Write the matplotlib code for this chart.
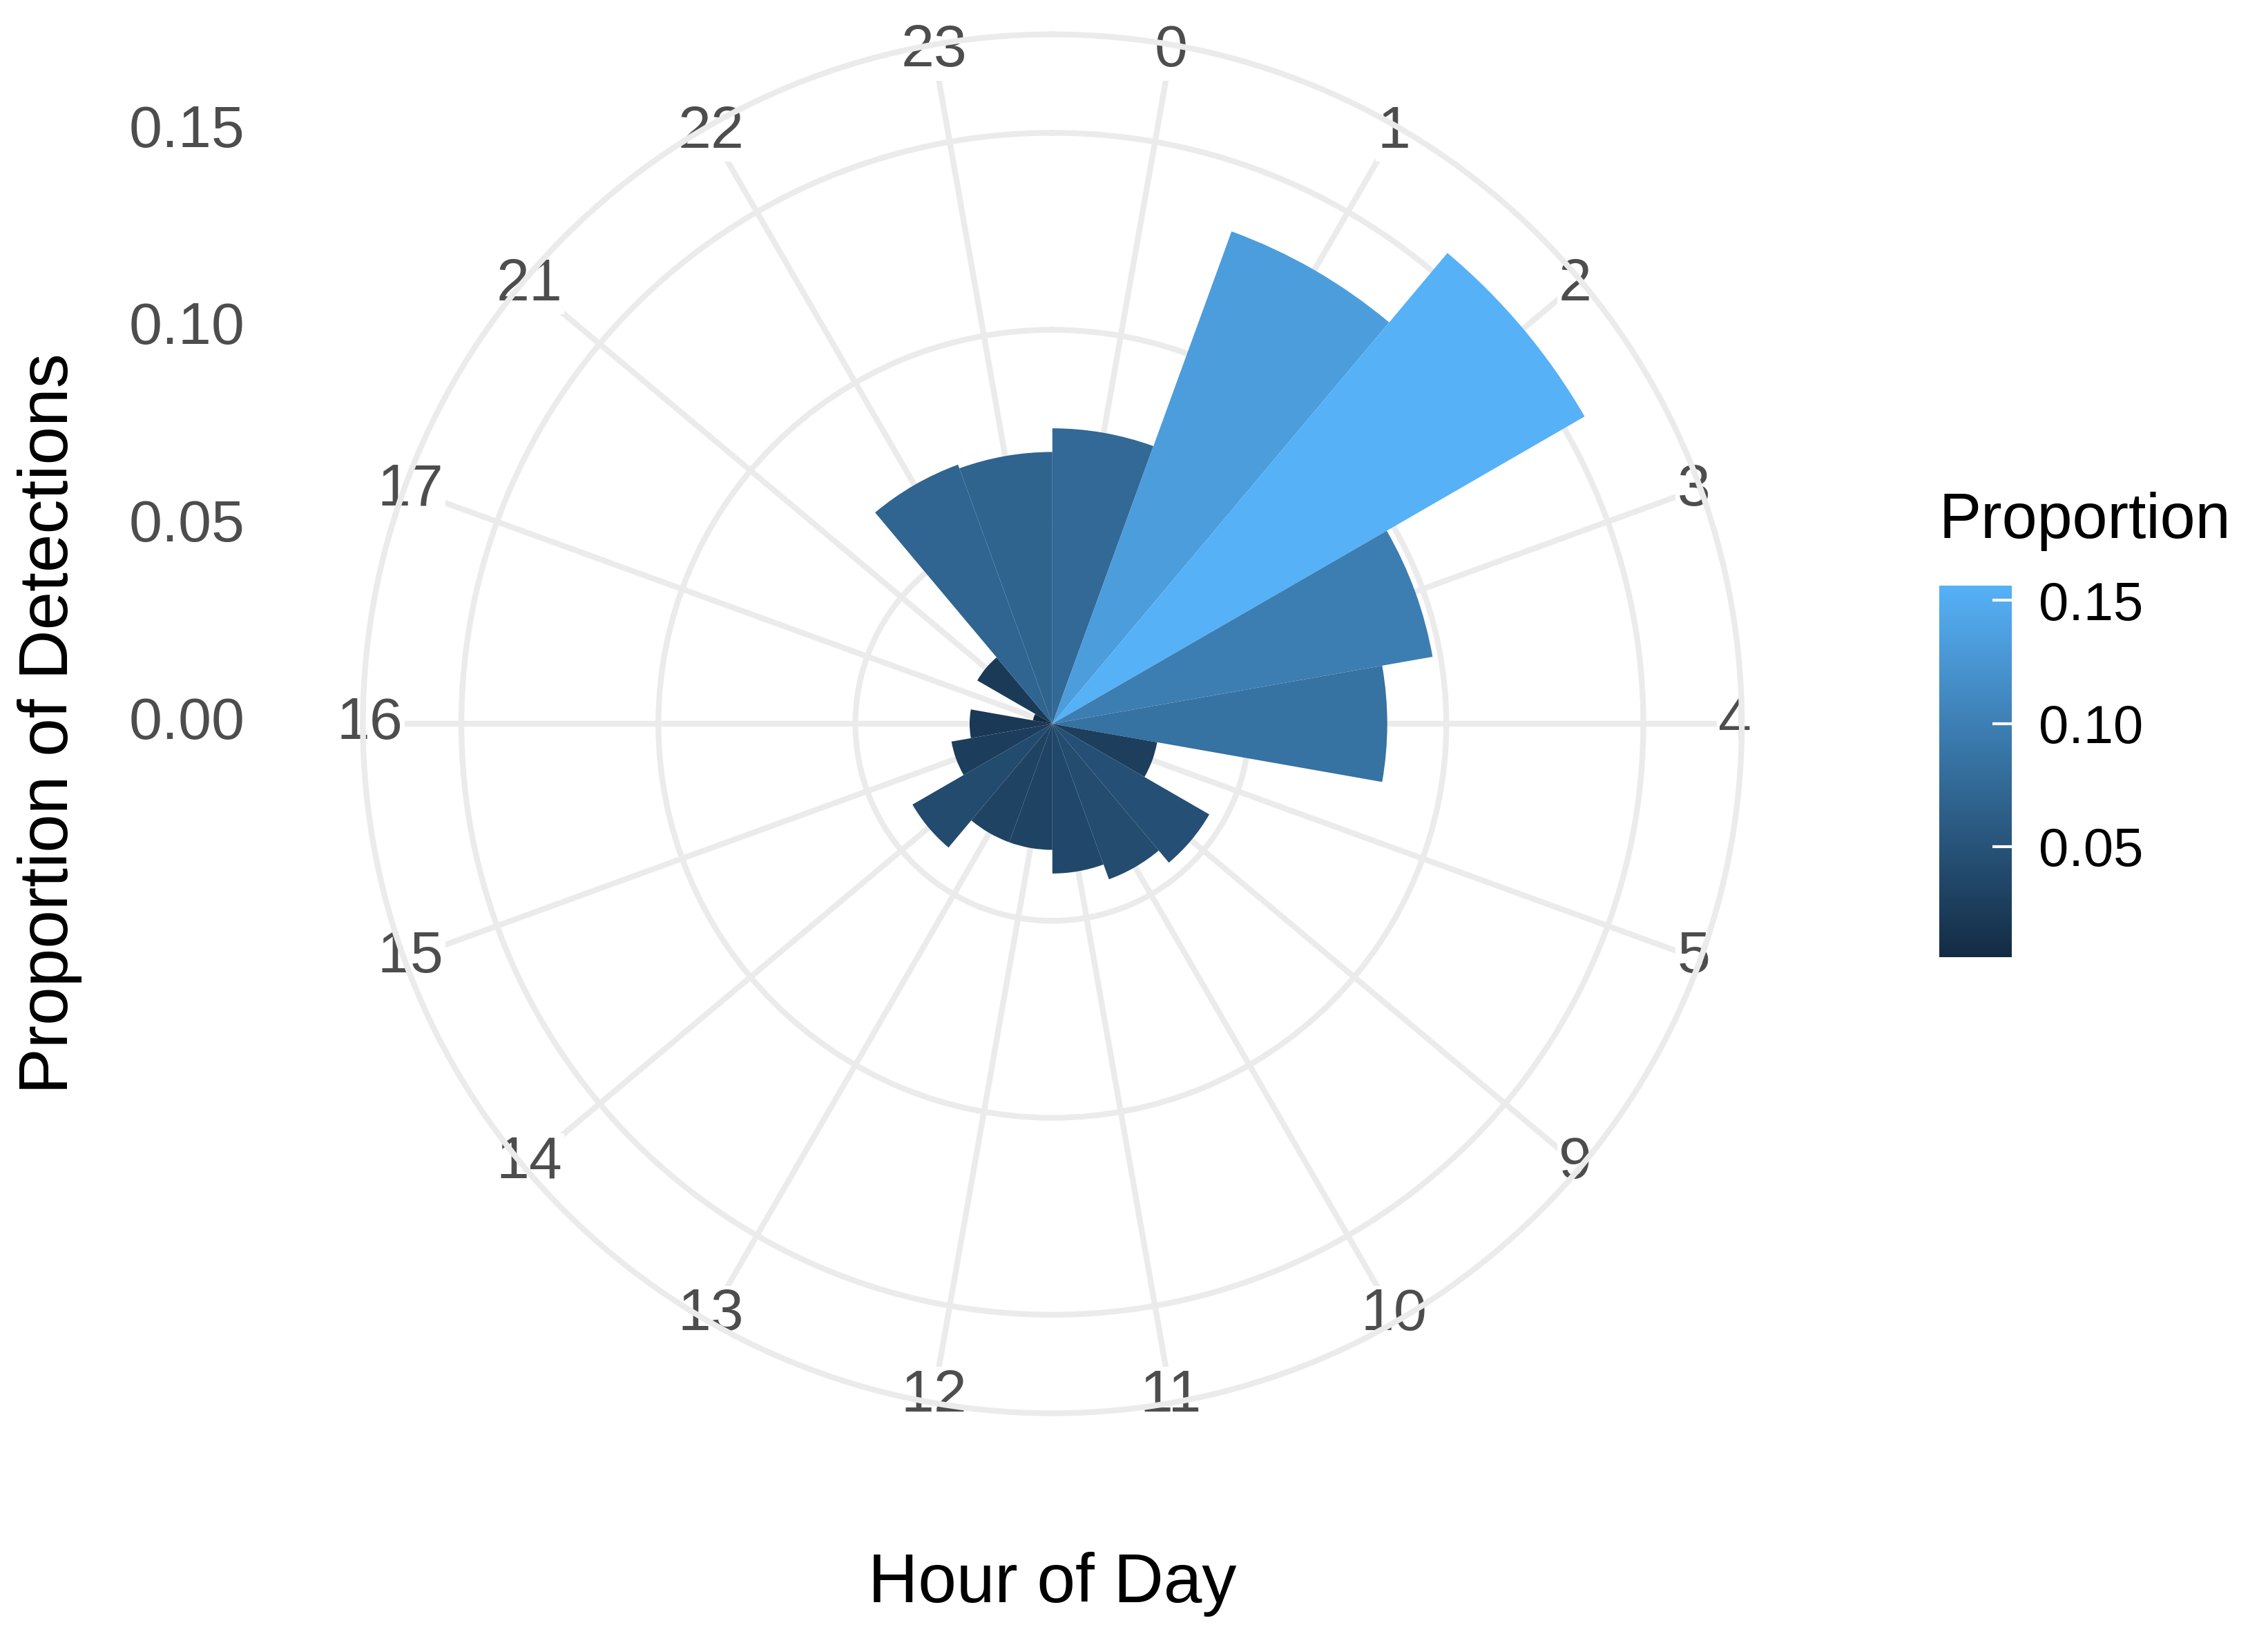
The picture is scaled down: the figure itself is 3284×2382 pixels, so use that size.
import numpy as np
import matplotlib.pyplot as plt
from matplotlib.colors import LinearSegmentedColormap, Normalize
from matplotlib.colorbar import ColorbarBase

plt.rcParams['font.family'] = ['Liberation Sans', 'DejaVu Sans']

hours = ['0', '1', '2', '3', '4', '5', '9', '10', '11', '12', '13', '14', '15', '16', '17', '21', '22', '23']
proportion = [0.075, 0.133, 0.156, 0.098, 0.085, 0.027, 0.046, 0.042, 0.038, 0.032,
              0.032, 0.041, 0.026, 0.021, 0.005, 0.022, 0.070, 0.069]
radial_ticks = [0.00, 0.05, 0.10, 0.15]
cbar_ticks = [0.05, 0.10, 0.15]

cmap = LinearSegmentedColormap.from_list('gg', ['#132B43', '#56B1F7'])
norm = Normalize(min(proportion), max(proportion))

fig = plt.figure(figsize=(16.42, 11.91), dpi=200)
ax = fig.add_axes([0.16, 0.14, 0.608, 0.84], projection='polar')
ax.set_theta_zero_location('N')
ax.set_theta_direction(-1)

n = len(hours)
width = 2 * np.pi / n
theta = (np.arange(n) + 0.5) * width
ax.bar(theta, proportion, width=width, color=cmap(norm(np.array(proportion))),
       edgecolor='none', zorder=3)

rmax = 0.175
ax.set_ylim(0, rmax)
ax.set_yticks(radial_ticks[1:])
ax.set_yticklabels([])
ax.set_xticks(theta)
ax.set_xticklabels(hours, fontsize=31, color='#4D4D4D')
for lab in ax.get_xticklabels():
    lab.set_bbox(dict(facecolor='white', edgecolor='none', pad=1))
    lab.set_zorder(5)
ax.tick_params(axis='x', pad=-14)
ax.grid(True, color='#EBEBEB', lw=3)
ax.spines['polar'].set_color('#EBEBEB')
ax.spines['polar'].set_linewidth(3)
ax.set_facecolor('white')

# radial axis labels on the left
cy = 0.56
for r in radial_ticks:
    fig.text(0.108, cy + r / rmax * 0.42, f'{r:.2f}', fontsize=31, color='#4D4D4D',
             ha='right', va='center')

fig.text(0.022, 0.56, 'Proportion of Detections', rotation=90, fontsize=36,
         ha='center', va='center')
fig.text(0.464, 0.037, 'Hour of Day', fontsize=36, ha='center', va='center')

cax = fig.add_axes([0.855, 0.418, 0.032, 0.226])
cb = ColorbarBase(cax, cmap=cmap, norm=norm, ticks=cbar_ticks)
cb.outline.set_visible(False)
cb.ax.tick_params(length=10, width=1.5, color='white', direction='in', labelsize=28,
                  labelcolor='black', pad=14)
cb.ax.set_yticklabels([f'{t:.2f}' for t in cbar_ticks])
fig.text(0.855, 0.683, 'Proportion', fontsize=33, ha='left', va='center')

fig.savefig('out.png', dpi=200, facecolor='white')
